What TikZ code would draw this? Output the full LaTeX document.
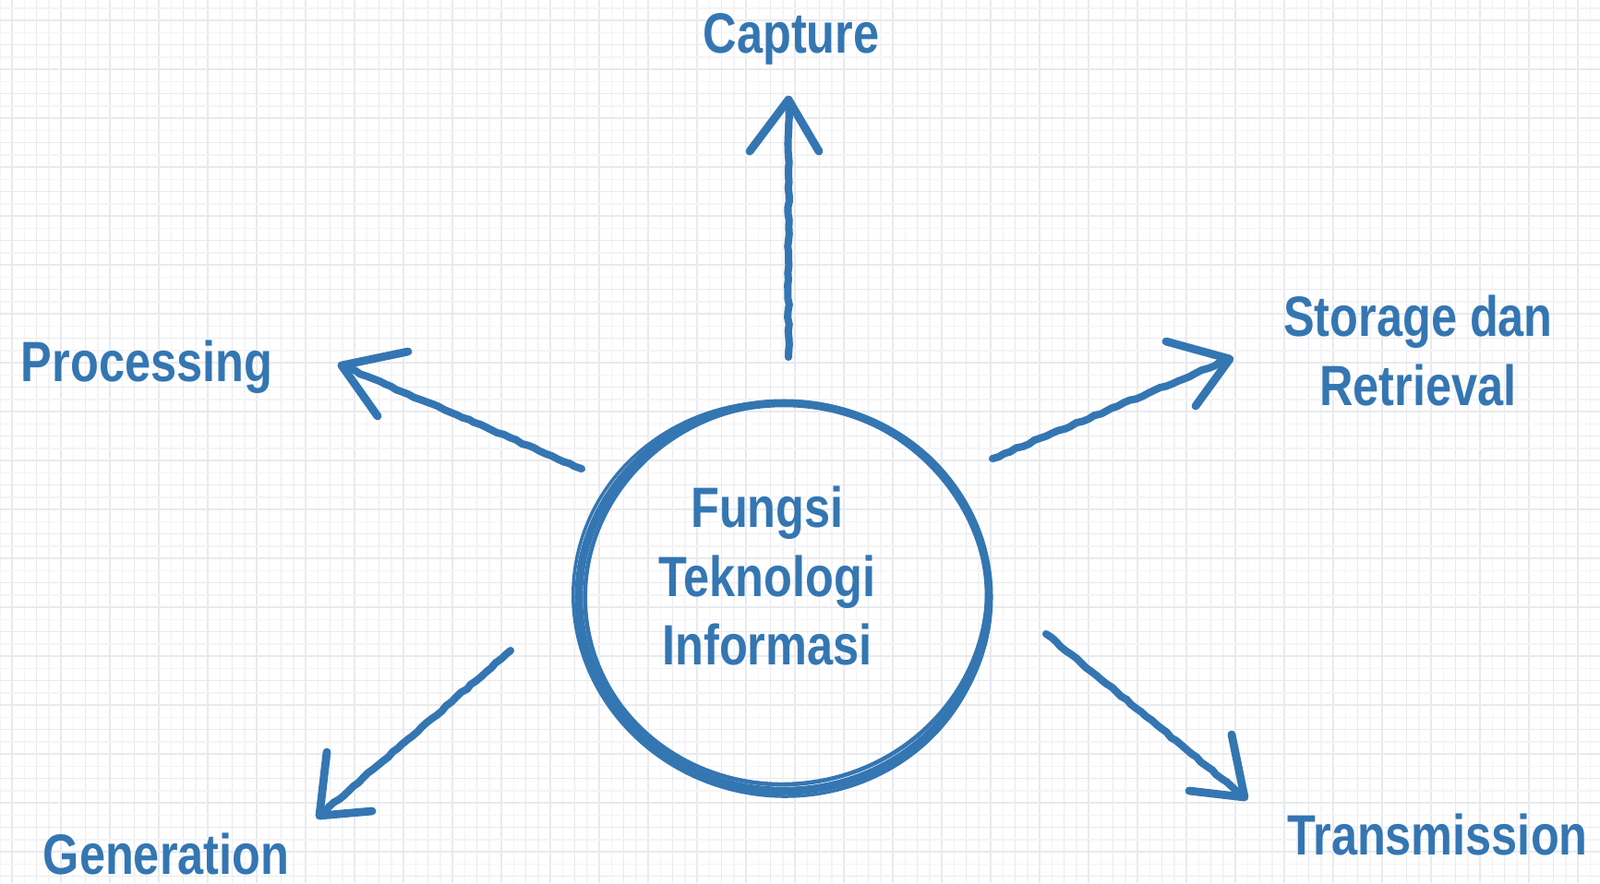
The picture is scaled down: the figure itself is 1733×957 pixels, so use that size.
\documentclass[tikz,border=0pt]{standalone}
\usepackage{fontspec}
\setmainfont[FakeStretch=0.82]{Liberation Sans}
\usetikzlibrary{decorations.pathmorphing}
\definecolor{ink}{RGB}{52,118,178}
\definecolor{gridmaj}{RGB}{233,234,237}
\definecolor{gridmin}{RGB}{244,244,246}
\tikzset{
  lbl/.style={text=ink, font=\bfseries\fontsize{17.5}{21.3}\selectfont, align=center, inner sep=0pt},
  shaft/.style={draw=ink, line width=2.3pt, line cap=round, decorate,
    decoration={random steps, segment length=2pt, amplitude=0.25pt}},
  barb/.style={draw=ink, line width=2.5pt, line cap=round, line join=round},
  ring/.style={draw=ink, line width=2.5pt}
}
\begin{document}
\begin{tikzpicture}[x=0.01cm,y=-0.01cm]
\fill[white] (0,0) rectangle (1733,957);
\useasboundingbox (0,0) rectangle (1733,957);
% grid
\foreach \i in {0,...,66} {
  \draw[gridmin, line width=0.4pt] ({26.5*\i},0) -- ({26.5*\i},957);
  \draw[gridmaj, line width=0.5pt] ({13+26.5*\i},0) -- ({13+26.5*\i},957);
}
\foreach \j in {0,...,37} {
  \draw[gridmin, line width=0.4pt] (0,{9+26.5*\j}) -- (1733,{9+26.5*\j});
  \draw[gridmaj, line width=0.5pt] (0,{22+26.5*\j}) -- (1733,{22+26.5*\j});
}
% central ring
\coordinate (c) at (849,647);
\draw[ring] (c) ellipse [x radius=2.22cm, y radius=2.10cm];
\draw[ring, line width=1.3pt, rotate around={10:(c)}] (852,644) ellipse [x radius=2.18cm, y radius=2.06cm];
\draw[ring, line width=1.0pt, rotate around={-12:(c)}] (846,650) ellipse [x radius=2.25cm, y radius=2.13cm];
\node[lbl] (center) at (831,624) {Fungsi\\Teknologi\\Informasi};
% labels
\node[lbl] (capture) at (857,42) {Capture};
\node[lbl] (processing) at (159,398) {Processing};
\node[lbl] (storage) at (1536,380) {Storage dan\\Retrieval};
\node[lbl] (generation) at (180,925) {Generation};
\node[lbl] (transmission) at (1557,904) {Transmission};
% arrow coordinates
\coordinate (capT) at (854,387); \coordinate (capH) at (854,108);
\coordinate (capA) at (812,164); \coordinate (capB) at (887,164);
\coordinate (proT) at (630,508); \coordinate (proH) at (370,396);
\coordinate (proA) at (442,381); \coordinate (proB) at (409,451);
\coordinate (stoT) at (1075,497); \coordinate (stoH) at (1332,389);
\coordinate (stoA) at (1263,370); \coordinate (stoB) at (1295,440);
\coordinate (genT) at (553,705); \coordinate (genH) at (346,884);
\coordinate (genA) at (354,815); \coordinate (genB) at (403,879);
\coordinate (traT) at (1133,687); \coordinate (traH) at (1348,864);
\coordinate (traA) at (1334,796); \coordinate (traB) at (1288,857);
% arrows
\foreach \a in {cap,pro,sto,gen,tra} {
  \draw[shaft] (\a T) -- (\a H);
  \draw[barb] (\a A) -- (\a H) -- (\a B);
}
\end{tikzpicture}
\end{document}
